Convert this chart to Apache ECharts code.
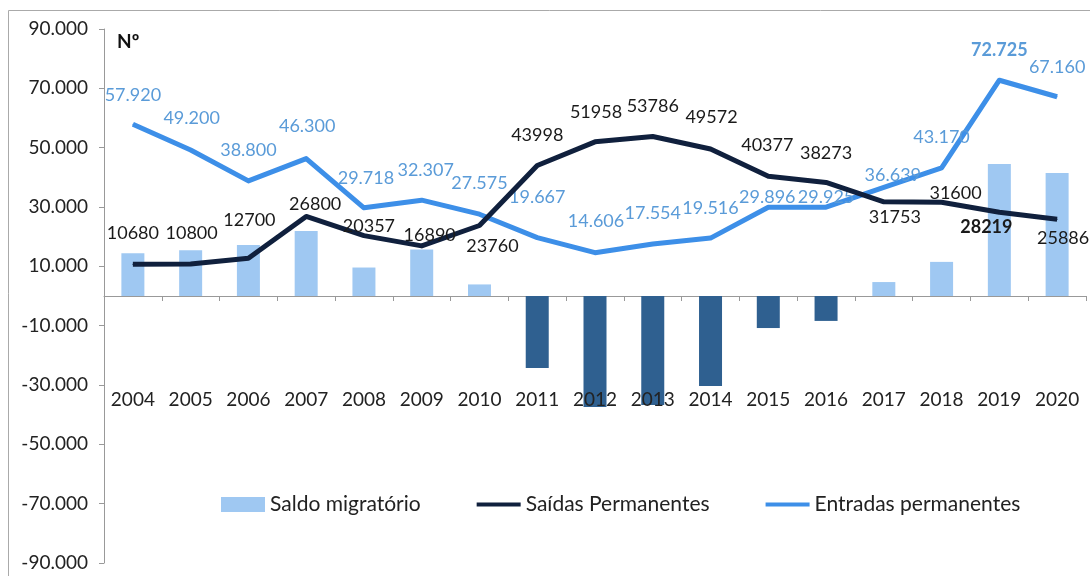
<!DOCTYPE html>
<html>
<head>
<meta charset="utf-8">
<script src="https://cdn.jsdelivr.net/npm/echarts@6/dist/echarts.min.js"></script>
<style>
  html, body { margin: 0; padding: 0; background: #fff; }
  #chart { width: 1090px; height: 576px; }
</style>
</head>
<body>
<div id="chart"></div>
<script>
// anos
const years = ["2004", "2005", "2006", "2007", "2008", "2009", "2010", "2011", "2012",
  "2013", "2014", "2015", "2016", "2017", "2018", "2019", "2020"];

// saldo migratório (barras)
const saldo = [14400, 15400, 17200, 21900, 9600, 15700, 3900, -24300, -37400,
  -36700, -30300, -10800, -8400, 4700, 11500, 44500, 41500];

const saidas = [10680, 10800, 12700, 26800, 20357, 16890, 23760, 43998, 51958,
  53786, 49572, 40377, 38273, 31753, 31600, 28219, 25886];

const entradas = [57920, 49200, 38800, 46300, 29718, 32307, 27575, 19667, 14606,
  17554, 19516, 29896, 29925, 36639, 43170, 72725, 67160];

const yTicks = [-90000, -70000, -50000, -30000, -10000, 10000, 30000, 50000, 70000, 90000];

const FONT = "Lato";

// 1234 -> 1.234
function fmt(v) {
  const s = String(Math.abs(v)).replace(/\B(?=(\d{3})+(?!\d))/g, ".");
  return (v < 0 ? "-" : "") + s;
}

// deslocamento das etiquetas [dx, acima]
const saidasLbl = [[0, 31], [1, 31], [1, 38], [9, 12], [5, 9], [8, 11], [13, -21], [0, 30], [1, 30],
  [0, 30], [1, 32], [-1, 31], [0, 29], [11, -15], [14, 9], [-13, -15], [6, -19]];
const entradasLbl = [[0, 29], [1, 32], [0, 31], [1, 32], [2, 30], [4, 30], [0, 31], [0, 40], [1, 31],
  [0, 31], [0, 30], [-1, 10], [0, 10], [9, 12], [0, 31], [0, 30], [0, 30]];

const chart = echarts.init(document.getElementById("chart"));

chart.setOption({
  animation: false,
  textStyle: { fontFamily: FONT },
  grid: { left: 104, right: 4, top: 29, bottom: 13, containLabel: false, outerBoundsMode: "none" },
  legend: {
    left: 216,
    top: 489,
    itemWidth: 44,
    itemHeight: 15,
    itemGap: 56,
    textStyle: { fontFamily: FONT, fontSize: 21, color: "#222" },
    data: [
      { name: "Saldo migratório", icon: "rect", itemStyle: { color: "#9fc8f2" } },
      { name: "Saídas Permanentes", icon: "path://M0,0 L48,0 L48,4.5 L0,4.5 Z", itemStyle: { color: "#10203d" } },
      { name: "Entradas permanentes", icon: "path://M0,0 L48,0 L48,4.5 L0,4.5 Z", itemStyle: { color: "#3d8fe8" } }
    ]
  },
  xAxis: [
    {
      type: "category",
      data: years,
      boundaryGap: true,
      axisLine: { onZero: true, lineStyle: { color: "#999", width: 1 } },
      axisTick: { show: true, length: 5, lineStyle: { color: "#999" } },
      axisLabel: { show: false }
    },
    {
      // só para as etiquetas dos anos, abaixo do eixo
      type: "category",
      data: years,
      position: "bottom",
      offset: -175,
      boundaryGap: true,
      axisLine: { show: false },
      axisTick: { show: false },
      axisLabel: { margin: 2, fontSize: 19, color: "#222", fontFamily: FONT },
      z: 10
    }
  ],
  yAxis: {
    type: "value",
    min: -90000,
    max: 90000,
    splitLine: { show: false },
    axisLine: { show: true, lineStyle: { color: "#999" } },
    axisTick: { show: true, length: 5, customValues: yTicks, lineStyle: { color: "#999" } },
    axisLabel: {
      customValues: yTicks,
      margin: 16,
      fontSize: 19,
      color: "#222",
      fontFamily: FONT,
      formatter: v => fmt(v)
    }
  },
  graphic: [
    {
      type: "rect",
      silent: true,
      shape: { x: 8.5, y: 10.5, width: 1200, height: 700 },
      style: { fill: "none", stroke: "#aaa", lineWidth: 1 }
    },
    {
      type: "text",
      left: 117,
      top: 32,
      style: { text: "Nº", fontFamily: FONT, fontSize: 19, fontWeight: "bold", fill: "#111" }
    }
  ],
  series: [
    {
      name: "Saldo migratório",
      type: "bar",
      data: saldo,
      barWidth: 23,
      itemStyle: {
        color: p => (p.value < 0 ? "#2f6090" : "#9fc8f2")
      },
      z: 1
    },
    {
      name: "Saídas Permanentes",
      type: "line",
      data: saidas.map((v, i) => ({
        value: v,
        label: { offset: [saidasLbl[i][0], -saidasLbl[i][1]], fontWeight: i === 15 ? "bold" : "normal" }
      })),
      symbol: "circle",
      symbolSize: 1,
      lineStyle: { color: "#10203d", width: 5, join: "round" },
      itemStyle: { color: "#10203d" },
      label: {
        show: true,
        position: "inside",
        fontFamily: FONT,
        fontSize: 18,
        color: "#1a1a1a"
      },
      z: 3
    },
    {
      name: "Entradas permanentes",
      type: "line",
      data: entradas.map((v, i) => ({
        value: v,
        label: { offset: [entradasLbl[i][0], -entradasLbl[i][1]], fontWeight: i === 15 ? "bold" : "normal" }
      })),
      symbol: "circle",
      symbolSize: 1,
      lineStyle: { color: "#3d8fe8", width: 5, join: "round" },
      itemStyle: { color: "#3d8fe8" },
      label: {
        show: true,
        position: "inside",
        fontFamily: FONT,
        fontSize: 18,
        color: "#5a9bd8",
        formatter: p => fmt(p.value)
      },
      z: 2
    }
  ]
});
</script>
</body>
</html>
